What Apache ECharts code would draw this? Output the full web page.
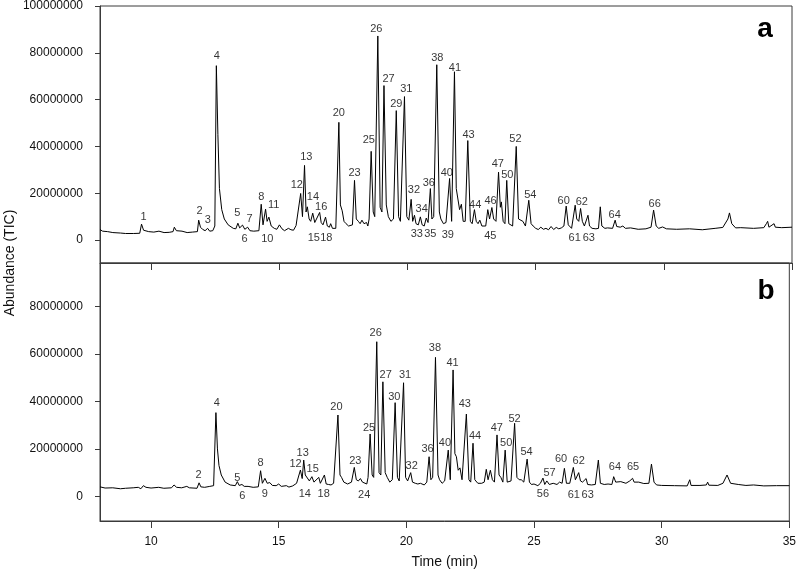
<!DOCTYPE html>
<html>
<head>
<meta charset="utf-8">
<script src="https://cdn.jsdelivr.net/npm/echarts@6/dist/echarts.min.js"></script>
<style>
  html, body { margin: 0; padding: 0; background: #fff; }
  #chart { width: 799px; height: 575px; }
</style>
</head>
<body>
<div id="chart"></div>
<script>
// TIC traces, [time (min), abundance in millions]
const traceA = [
  [8.0, 4.5], [8.1, 3.8], [8.3, 3.6], [8.5, 3.2], [8.8, 3.0], [9.0, 2.8], [9.3, 2.8], [9.55, 2.9],
  [9.62, 6.8], [9.7, 4.2], [9.9, 3.6], [10.1, 3.4], [10.3, 3.8], [10.5, 3.2], [10.7, 3.3], [10.85, 3.6],
  [10.9, 5.5], [10.98, 4.0], [11.2, 3.8], [11.4, 3.2], [11.6, 3.4], [11.8, 3.6], [11.85, 8.5], [11.92, 5.5],
  [12.0, 4.6], [12.1, 4.0], [12.2, 5.0], [12.28, 3.8], [12.4, 4.0], [12.48, 6], [12.54, 74.5], [12.6, 45],
  [12.66, 22], [12.75, 13], [12.85, 9], [13.0, 6.5], [13.2, 5.0], [13.3, 4.8], [13.38, 7.2], [13.45, 5.2],
  [13.56, 6.4], [13.65, 4.6], [13.76, 5.5], [13.85, 4.0], [14.0, 3.8], [14.2, 4.0], [14.29, 15.3], [14.36, 6.5],
  [14.46, 13.2], [14.52, 8.0], [14.59, 9.8], [14.68, 6.0], [14.8, 5.0], [14.9, 4.6], [15.0, 6.5], [15.1, 4.8],
  [15.2, 4.0], [15.35, 5.0], [15.45, 4.4], [15.55, 4.2], [15.65, 6.2], [15.72, 5.5], [15.83, 19.9], [15.9, 10],
  [15.98, 31.9], [16.04, 12], [16.09, 14.2], [16.16, 9], [16.22, 8], [16.3, 11.5], [16.38, 7.5], [16.45, 7.0],
  [16.57, 11.8], [16.63, 7.5], [16.7, 6.5], [16.8, 9.8], [16.87, 6.0], [16.95, 5.5], [17.0, 7.0], [17.07, 5.0],
  [17.2, 5.0], [17.32, 50.3], [17.38, 15], [17.45, 12.5], [17.52, 8.0], [17.6, 7.0], [17.7, 6.0], [17.85, 6.5],
  [17.93, 25.5], [18.0, 9], [18.08, 8], [18.15, 7], [18.22, 8.5], [18.3, 7], [18.4, 7.5], [18.45, 6.0],
  [18.5, 9], [18.58, 37.9], [18.66, 12], [18.72, 10], [18.84, 87.2], [18.93, 14], [19.0, 12], [19.08, 66],
  [19.17, 15], [19.25, 10], [19.35, 8], [19.45, 9], [19.56, 55.3], [19.65, 10], [19.72, 8], [19.88, 61.3],
  [19.97, 10], [20.05, 8.5], [20.14, 17.4], [20.2, 8], [20.27, 10.6], [20.33, 7], [20.42, 6.5], [20.5, 9.9],
  [20.57, 6.5], [20.65, 6], [20.73, 9.4], [20.8, 7.5], [20.89, 22], [20.95, 9], [21.02, 10], [21.14, 74.9],
  [21.24, 12], [21.3, 9], [21.4, 7], [21.44, 7.7], [21.5, 7.5], [21.64, 26.3], [21.72, 8], [21.83, 71.9],
  [21.9, 22], [21.96, 21.6], [22.03, 13], [22.1, 15.3], [22.17, 8], [22.25, 8], [22.35, 42.5], [22.45, 8],
  [22.52, 7], [22.61, 13], [22.68, 8], [22.75, 7], [22.82, 8.5], [22.9, 6], [23.05, 6], [23.13, 13],
  [23.2, 9], [23.29, 13.9], [23.36, 9], [23.45, 8], [23.55, 29], [23.62, 14], [23.66, 16.3], [23.73, 8],
  [23.8, 7], [23.87, 25.5], [23.95, 7], [24.1, 6], [24.24, 40], [24.33, 9], [24.4, 8.5], [24.5, 8],
  [24.6, 6], [24.73, 17], [24.82, 7], [24.9, 6], [25.0, 5], [25.1, 4.5], [25.2, 5.5], [25.3, 4.6],
  [25.4, 5.0], [25.5, 4.4], [25.6, 5.8], [25.7, 4.5], [25.8, 5.4], [25.9, 4.8], [26.0, 5.2], [26.1, 6.0],
  [26.19, 14.5], [26.27, 6.5], [26.4, 5.0], [26.54, 14.9], [26.6, 9], [26.68, 8], [26.75, 13.5], [26.82, 8],
  [26.9, 6], [27.04, 10.6], [27.1, 6], [27.2, 5], [27.35, 4.8], [27.45, 5], [27.52, 14.2], [27.58, 6],
  [27.7, 5], [27.8, 5.2], [28.0, 5.0], [28.1, 8.5], [28.16, 5.8], [28.3, 5.5], [28.4, 6.0], [28.5, 5.0],
  [28.7, 5.2], [29.0, 4.6], [29.3, 4.8], [29.5, 5.5], [29.6, 12.8], [29.7, 6], [29.8, 5.0], [29.95, 5.6],
  [30.1, 4.8], [30.5, 4.6], [31.0, 4.8], [31.5, 4.4], [32.0, 5.0], [32.3, 5.4], [32.5, 9], [32.56, 11.6],
  [32.65, 7], [32.8, 5.2], [33.0, 5.3], [33.5, 5.0], [33.9, 5.3], [34.0, 7], [34.05, 8], [34.1, 5.5],
  [34.3, 7], [34.35, 5.5], [34.6, 5.3], [35.0, 5.5]
];

const traceB = [
  [8.0, 4.0], [8.2, 3.5], [8.5, 3.6], [8.8, 3.2], [9.0, 3.4], [9.3, 3.6], [9.5, 3.8], [9.6, 3.2],
  [9.7, 4.5], [9.8, 3.8], [10.0, 3.5], [10.3, 3.8], [10.5, 3.4], [10.8, 3.6], [10.9, 4.8], [11.0, 3.8],
  [11.2, 3.6], [11.4, 4.2], [11.5, 3.6], [11.8, 3.4], [11.88, 5.7], [11.95, 4.0], [12.1, 3.8], [12.3, 4.2],
  [12.45, 4.5], [12.54, 35.3], [12.6, 20], [12.66, 13], [12.75, 9], [12.9, 6], [13.1, 4.8], [13.3, 4.5],
  [13.38, 6.2], [13.45, 4.6], [13.56, 5.0], [13.65, 4.2], [13.8, 4.2], [14.0, 3.8], [14.2, 4.0], [14.29, 10.8],
  [14.36, 5.5], [14.46, 7.6], [14.55, 5.5], [14.65, 5.8], [14.75, 4.6], [14.9, 4.5], [15.0, 5.2], [15.1, 4.2],
  [15.3, 4.5], [15.4, 3.9], [15.55, 4.4], [15.7, 5.5], [15.85, 11.1], [15.92, 7.5], [15.98, 15.3], [16.04, 9],
  [16.1, 8.5], [16.2, 6.5], [16.3, 8.3], [16.38, 6], [16.45, 5.5], [16.57, 8.0], [16.63, 5.5], [16.7, 5.0],
  [16.79, 9.0], [16.86, 5.2], [16.95, 5.0], [17.05, 4.8], [17.15, 5.5], [17.32, 34.3], [17.4, 9], [17.46, 8],
  [17.55, 6], [17.7, 5.2], [17.85, 6.0], [17.96, 12.2], [18.04, 7], [18.12, 6.5], [18.2, 7.5], [18.28, 6],
  [18.35, 5.5], [18.45, 5.2], [18.5, 8], [18.58, 26.3], [18.66, 9], [18.72, 8], [18.84, 65.2], [18.93, 10],
  [19.0, 9], [19.08, 48.3], [19.17, 10], [19.25, 8], [19.35, 6], [19.45, 7], [19.56, 39.5], [19.65, 8],
  [19.72, 6.5], [19.89, 47.9], [19.97, 8], [20.05, 6.5], [20.17, 10], [20.24, 6], [20.35, 5.5], [20.45, 5.2],
  [20.55, 5.5], [20.7, 4.8], [20.8, 6], [20.89, 16.7], [20.96, 7], [21.03, 8], [21.14, 58.6], [21.24, 9],
  [21.3, 7], [21.4, 5.5], [21.5, 6.5], [21.64, 19.5], [21.72, 7], [21.83, 53.3], [21.9, 18], [21.96, 16.7],
  [22.03, 11], [22.1, 12], [22.18, 7], [22.25, 7], [22.35, 34.7], [22.45, 7], [22.52, 6], [22.61, 22.4],
  [22.68, 7], [22.8, 5.5], [22.95, 5.5], [23.05, 6], [23.13, 11.4], [23.2, 7], [23.29, 11], [23.37, 7],
  [23.45, 6], [23.55, 25.9], [23.63, 9], [23.7, 8], [23.78, 6], [23.87, 19.5], [23.95, 6], [24.1, 6.5],
  [24.24, 30.8], [24.33, 8], [24.42, 7], [24.5, 7], [24.6, 6], [24.73, 15.7], [24.82, 6], [24.9, 5],
  [25.0, 5.2], [25.15, 4.5], [25.25, 5.5], [25.35, 7.7], [25.42, 5.0], [25.5, 6.5], [25.6, 5], [25.75, 5.5],
  [25.9, 5], [26.0, 6], [26.1, 5.5], [26.19, 11.8], [26.27, 5.5], [26.4, 5.5], [26.54, 12.2], [26.62, 7],
  [26.68, 6.5], [26.75, 10], [26.82, 6.5], [26.9, 6], [27.04, 7.5], [27.1, 5], [27.25, 4.8], [27.4, 5],
  [27.52, 15.3], [27.6, 5.5], [27.75, 5], [27.9, 5.2], [28.05, 5], [28.12, 8.3], [28.2, 6], [28.4, 6.2],
  [28.6, 5.5], [28.75, 6.5], [28.86, 7.6], [28.92, 6.0], [29.1, 6], [29.3, 5.4], [29.5, 5.5], [29.6, 13.6],
  [29.7, 6], [29.8, 4.8], [30.0, 4.6], [30.5, 4.5], [31.0, 4.4], [31.1, 7], [31.15, 4.6], [31.5, 4.6],
  [31.75, 4.8], [31.8, 6], [31.85, 4.7], [32.2, 4.6], [32.4, 5.5], [32.56, 9], [32.7, 5.5], [33.0, 5.0],
  [33.3, 4.6], [33.6, 4.8], [34.0, 4.4], [34.5, 4.5], [35.0, 4.5]
];

// peak numbers, [label, time, abundance in millions] where the number sits
const peakLabelsA = [
  ['1', 9.70, 9.8], ['2', 11.88, 12.5], ['3', 12.21, 8.5], ['4', 12.56, 78.7], ['5', 13.36, 11.6],
  ['6', 13.64, 0.3], ['7', 13.84, 9.2], ['8', 14.29, 18.4], ['10', 14.53, 0.3], ['11', 14.78, 14.9],
  ['12', 15.68, 23.4], ['13', 16.05, 35.4], ['14', 16.31, 18.4], ['15', 16.34, 0.7], ['16', 16.63, 14.2],
  ['18', 16.83, 0.7], ['20', 17.32, 54.2], ['23', 17.93, 28.8], ['25', 18.49, 42.8], ['26', 18.78, 90.1],
  ['27', 19.26, 68.8], ['29', 19.56, 58.2], ['31', 19.95, 64.5], ['32', 20.25, 21.6], ['33', 20.36, 2.6],
  ['34', 20.55, 13.1], ['35', 20.89, 2.6], ['36', 20.83, 24.4], ['38', 21.16, 78.0], ['39', 21.57, 2.1],
  ['40', 21.53, 28.6], ['41', 21.85, 73.5], ['43', 22.38, 45.1], ['44', 22.64, 14.9], ['45', 23.23, 1.7],
  ['46', 23.24, 16.7], ['47', 23.52, 32.3], ['50', 23.89, 28.0], ['52', 24.21, 43.3], ['54', 24.79, 19.1],
  ['60', 26.09, 16.7], ['61', 26.52, 1.1], ['62', 26.80, 16.3], ['63', 27.07, 1.1], ['64', 28.08, 10.6],
  ['66', 29.64, 15.6]
];

const peakLabelsB = [
  ['2', 11.86, 9.0], ['4', 12.58, 39.5], ['5', 13.38, 7.6], ['6', 13.57, 0.1], ['8', 14.29, 13.9],
  ['9', 14.46, 0.8], ['12', 15.66, 13.6], ['13', 15.94, 18.4], ['14', 16.02, 0.8], ['15', 16.33, 11.5],
  ['18', 16.76, 0.8], ['20', 17.26, 37.8], ['23', 18.00, 14.9], ['24', 18.35, 0.5], ['25', 18.54, 28.9],
  ['26', 18.80, 69.0], ['27', 19.19, 51.2], ['30', 19.53, 42.0], ['31', 19.95, 51.2], ['32', 20.21, 12.9],
  ['36', 20.83, 19.8], ['38', 21.12, 62.7], ['40', 21.51, 22.6], ['41', 21.81, 56.1], ['43', 22.29, 38.8],
  ['44', 22.69, 25.6], ['47', 23.54, 28.9], ['50', 23.91, 22.4], ['52', 24.24, 32.6], ['54', 24.71, 18.8],
  ['56', 25.35, 1.0], ['57', 25.61, 9.7], ['60', 26.06, 15.6], ['61', 26.56, 0.5], ['62', 26.75, 14.9],
  ['63', 27.10, 0.5], ['64', 28.17, 12.2], ['65', 28.88, 12.2]
];

const timeTicks = [10, 15, 20, 25, 30, 35];
const abundTicksA = [0, 20000000, 40000000, 60000000, 80000000, 100000000];
const abundTicksB = [0, 20000000, 40000000, 60000000, 80000000];

const M = 1000000;
const font = 'Liberation Sans, Arial, sans-serif';
const axisColor = '#3a3a3a';

const toSeries = (arr) => arr.map((d) => [d[0], d[1] * M]);
const toLabels = (arr) => arr.map((d) => [d[1], d[2] * M, d[0]]);

function yAxis(idx, min, max, ticks) {
  return {
    type: 'value',
    gridIndex: idx,
    min: min,
    max: max,
    axisLine: { show: true, lineStyle: { color: axisColor, width: 1 } },
    axisTick: { show: true, inside: false, length: 5, customValues: ticks, lineStyle: { color: axisColor } },
    axisLabel: {
      customValues: ticks,
      margin: 17,
      color: '#111',
      fontSize: 12,
      fontFamily: font,
      formatter: (v) => String(v),
    },
    splitLine: { show: false },
  };
}

function xAxis(idx, showLabels) {
  return {
    type: 'value',
    gridIndex: idx,
    min: 8,
    max: 35,
    axisLine: { show: true, onZero: false, lineStyle: { color: axisColor, width: 1 } },
    axisTick: { show: true, inside: false, length: 7, customValues: timeTicks, lineStyle: { color: axisColor } },
    axisLabel: {
      show: showLabels,
      customValues: timeTicks,
      margin: 15,
      color: '#111',
      fontSize: 12,
      fontFamily: font,
    },
    splitLine: { show: false },
    name: showLabels ? 'Time (min)' : '',
    nameLocation: 'middle',
    nameGap: 34,
    nameTextStyle: { color: '#111', fontSize: 14, fontFamily: font },
  };
}

function labelSeries(idx, data) {
  return {
    type: 'scatter',
    xAxisIndex: idx,
    yAxisIndex: idx,
    data: data,
    symbolSize: 0,
    silent: true,
    label: {
      show: true,
      position: 'inside',
      formatter: (p) => p.data[2],
      color: '#000',
      fontSize: 11,
      fontFamily: font,
    },
  };
}

function traceSeries(idx, data) {
  return {
    type: 'line',
    xAxisIndex: idx,
    yAxisIndex: idx,
    data: data,
    showSymbol: false,
    symbol: 'none',
    sampling: null,
    lineStyle: { color: '#000', width: 1 },
    z: 3,
  };
}

const chart = echarts.init(document.getElementById('chart'));
const option = {
  animation: false,
  backgroundColor: '#fff',
  grid: [
    { left: 100, right: 7, top: 5, height: 258, show: true, borderColor: axisColor, borderWidth: 1 },
    { left: 100, right: 7, top: 263, height: 258, show: true, borderColor: axisColor, borderWidth: 1 },
  ],
  xAxis: [xAxis(0, false), xAxis(1, true)],
  yAxis: [yAxis(0, -9800000, 100000000, abundTicksA), yAxis(1, -10400000, 98400000, abundTicksB)],
  graphic: [
    {
      type: 'text',
      x: 10,
      y: 263,
      rotation: Math.PI / 2,
      style: { text: 'Abundance (TIC)', fill: '#111', font: '14px ' + font, align: 'center', verticalAlign: 'middle' },
    },
    {
      type: 'text',
      x: 765,
      y: 29,
      style: { text: 'a', fill: '#000', font: 'bold 28px ' + font, align: 'center', verticalAlign: 'middle' },
    },
    {
      type: 'text',
      x: 766,
      y: 291,
      style: { text: 'b', fill: '#000', font: 'bold 28px ' + font, align: 'center', verticalAlign: 'middle' },
    },
  ],
  series: [
    traceSeries(0, toSeries(traceA)),
    traceSeries(1, toSeries(traceB)),
    labelSeries(0, toLabels(peakLabelsA)),
    labelSeries(1, toLabels(peakLabelsB)),
  ],
};
chart.setOption(option);
</script>
</body>
</html>
